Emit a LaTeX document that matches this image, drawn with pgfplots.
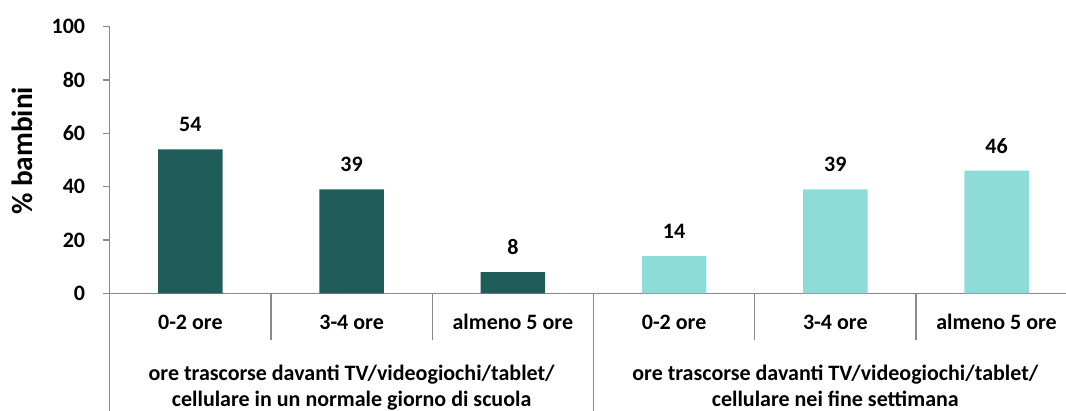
\documentclass[border=0pt]{standalone}
\usepackage{pgfplots}
\pgfplotsset{compat=1.18}
\usepackage{fontspec}
\setmainfont{Carlito}
\definecolor{darkteal}{RGB}{31,92,90}
\definecolor{lightteal}{RGB}{141,220,216}
\definecolor{axgray}{RGB}{137,137,137}
\newcommand\lbl{\fontsize{16.5}{19.5}\selectfont\bfseries}

\begin{document}
\begin{tikzpicture}
\begin{axis}[name=ax, scale only axis, width=725.6pt, height=200pt,
 xmin=-0.5, xmax=5.5, ymin=0, ymax=100, enlargelimits=false,
 axis lines*=left, axis line style={axgray, line width=1pt},
 ybar, bar width=0.4, bar shift=0pt,
 ytick={0,20,...,100}, tick align=outside, major tick length=5.25pt,
 ytick style={axgray, line width=1pt},
 xtick={0,...,5}, xticklabels={0-2 ore,3-4 ore,almeno 5 ore,0-2 ore,3-4 ore,almeno 5 ore},
 xtick style={draw=none},
 ticklabel style={font=\lbl}, /pgf/number format/assume math mode=true,
 yticklabel style={anchor=east, inner sep=0pt, xshift=-13pt},
 xticklabel style={anchor=base, inner sep=0pt, yshift=-21.8pt},
 ylabel={\% bambini},
 ylabel style={font=\fontsize{22}{26}\selectfont\bfseries, anchor=base, at={(axis description cs:-0.0798,0.534)}},
 nodes near coords,
 every node near coord/.append style={font=\lbl, anchor=base, yshift=13pt, black},
 clip=false,
]
\addplot[fill=darkteal, draw=none] coordinates {(0,54) (1,39) (2,8)};
\addplot[fill=lightteal, draw=none] coordinates {(3,14) (4,39) (5,46)};
\draw[axgray, line width=1pt] (axis cs:0.5,0) -- ([yshift=-35.25pt]axis cs:0.5,0);
\draw[axgray, line width=1pt] (axis cs:1.5,0) -- ([yshift=-35.25pt]axis cs:1.5,0);
\draw[axgray, line width=1pt] (axis cs:3.5,0) -- ([yshift=-35.25pt]axis cs:3.5,0);
\draw[axgray, line width=1pt] (axis cs:4.5,0) -- ([yshift=-35.25pt]axis cs:4.5,0);
\draw[axgray, line width=1pt] (axis cs:-0.5,0) -- ([yshift=-90pt]axis cs:-0.5,0);
\draw[axgray, line width=1pt] (axis cs:2.5,0) -- ([yshift=-90pt]axis cs:2.5,0);
\node[font=\lbl, anchor=base, inner sep=0pt] at ([yshift=-65.5pt]axis cs:1,0) {ore trascorse davanti TV/videogiochi/tablet/};
\node[font=\lbl, anchor=base, inner sep=0pt] at ([yshift=-84.5pt]axis cs:1,0) {cellulare in un normale giorno di scuola};
\node[font=\lbl, anchor=base, inner sep=0pt] at ([yshift=-65.5pt]axis cs:4,0) {ore trascorse davanti TV/videogiochi/tablet/};
\node[font=\lbl, anchor=base, inner sep=0pt] at ([yshift=-84.5pt]axis cs:4,0) {cellulare nei fine settimana};
\end{axis}
\pgfresetboundingbox
\path[use as bounding box] ([xshift=-82.3pt, yshift=-87.5pt]ax.south west) rectangle ++(799.5pt,307.5pt);
\end{tikzpicture}
\end{document}
